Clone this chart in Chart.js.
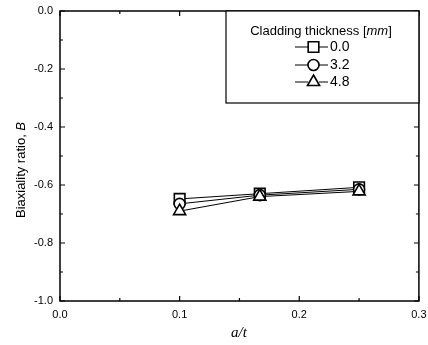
<!DOCTYPE html>
<html>
<head>
<meta charset="utf-8">
<script src="https://cdn.jsdelivr.net/npm/chart.js@4"></script>
<style>
  html, body { margin: 0; padding: 0; background: #fff; }
  #wrap { width: 428px; height: 345px; }
</style>
</head>
<body>
<div id="wrap"><canvas id="biaxChart" width="428" height="345"></canvas></div>
<script>
// ---------------- Data ----------------
const crackDepth = [0.1, 0.167, 0.25];          // a/t
const clad00 = [-0.648, -0.630, -0.608];        // cladding 0.0 mm
const clad32 = [-0.665, -0.635, -0.615];        // cladding 3.2 mm
const clad48 = [-0.690, -0.640, -0.622];        // cladding 4.8 mm
const seriesLabels = ['0.0', '3.2', '4.8'];
const seriesStyles = ['rect', 'circle', 'triangle'];
const xTicks = [0.0, 0.1, 0.2, 0.3];
const yTicks = [0.0, -0.2, -0.4, -0.6, -0.8, -1.0];

const FONT = '"Liberation Sans", Arial, sans-serif';
const radii = { rect: 7.5, circle: 5.5, triangle: 7 };

function toPoints(ys) {
    return crackDepth.map((x, i) => ({ x: x, y: ys[i] }));
}

const datasets = [clad00, clad32, clad48].map((ys, i) => ({
    label: seriesLabels[i],
    data: toPoints(ys),
    showLine: true,
    borderColor: '#000',
    borderWidth: 1,
    pointStyle: seriesStyles[i],
    pointRadius: radii[seriesStyles[i]],
    pointBorderWidth: 1.6,
    pointBackgroundColor: '#fff',
    pointBorderColor: '#000',
    order: 3 - i
}));

// frame, inward ticks, titles and legend box
const framePlugin = {
    id: 'frame',
    afterDatasetsDraw(chart) {
        const { ctx, chartArea: a, scales: { x, y } } = chart;
        ctx.save();
        ctx.strokeStyle = '#000';
        ctx.lineWidth = 1.5;
        ctx.strokeRect(a.left, a.top, a.right - a.left, a.bottom - a.top);

        ctx.lineWidth = 1.2;
        ctx.beginPath();
        for (let k = 0; k <= 6; k++) {
            const px = x.getPixelForValue(k * 0.05);
            const len = k % 2 === 0 ? 5 : 3;
            ctx.moveTo(px, a.bottom); ctx.lineTo(px, a.bottom - len);
            ctx.moveTo(px, a.top); ctx.lineTo(px, a.top + len);
        }
        for (let k = 0; k <= 10; k++) {
            const py = y.getPixelForValue(-k / 10);
            const len = k % 2 === 0 ? 5 : 3;
            ctx.moveTo(a.left, py); ctx.lineTo(a.left + len, py);
            ctx.moveTo(a.right, py); ctx.lineTo(a.right - len, py);
        }
        ctx.stroke();

        // y title
        ctx.fillStyle = '#000';
        ctx.save();
        ctx.translate(21, 170);
        ctx.rotate(-Math.PI / 2);
        ctx.textBaseline = 'middle';
        ctx.textAlign = 'left';
        const t1 = 'Biaxiality ratio, ';
        ctx.font = '13px ' + FONT;
        const w1 = ctx.measureText(t1).width;
        ctx.font = 'italic 13px ' + FONT;
        const w2 = ctx.measureText('B').width;
        const sx = -(w1 + w2) / 2;
        ctx.font = '13px ' + FONT;
        ctx.fillText(t1, sx, 0);
        ctx.font = 'italic 13px ' + FONT;
        ctx.fillText('B', sx + w1, 0);
        ctx.restore();

        // x title
        ctx.font = 'italic 15px "Liberation Serif", "Times New Roman", serif';
        ctx.textAlign = 'center';
        ctx.textBaseline = 'middle';
        ctx.fillText('a/t', 239, 333);

        // legend
        const lx = 226, ly = a.top, lw = a.right - 226, lh = 92;
        ctx.fillStyle = '#fff';
        ctx.fillRect(lx, ly, lw, lh);
        ctx.strokeStyle = '#000';
        ctx.lineWidth = 1.2;
        ctx.strokeRect(lx, ly, lw, lh);
        ctx.fillStyle = '#000';
        ctx.textAlign = 'left';
        ctx.font = '13px ' + FONT;
        const tA = 'Cladding thickness [';
        const wA = ctx.measureText(tA).width;
        ctx.font = 'italic 13px ' + FONT;
        const wB = ctx.measureText('mm').width;
        ctx.font = '13px ' + FONT;
        const wC = ctx.measureText(']').width;
        const tx = 321 - (wA + wB + wC) / 2;
        ctx.fillText(tA, tx, 31);
        ctx.font = 'italic 13px ' + FONT;
        ctx.fillText('mm', tx + wA, 31);
        ctx.font = '13px ' + FONT;
        ctx.fillText(']', tx + wA + wB, 31);

        const rows = [47, 65, 82];
        chart.data.datasets.forEach((ds, i) => {
            const yy = rows[i];
            ctx.strokeStyle = '#000';
            ctx.lineWidth = 1;
            ctx.beginPath();
            ctx.moveTo(295, yy); ctx.lineTo(308, yy);
            ctx.moveTo(319, yy); ctx.lineTo(328, yy);
            ctx.stroke();
            ctx.lineWidth = 1.6;
            ctx.fillStyle = '#fff';
            Chart.helpers.drawPoint(ctx, {
                pointStyle: ds.pointStyle, radius: ds.pointRadius, borderWidth: 1.6
            }, 313.5, yy);
            ctx.fillStyle = '#000';
            ctx.font = '14px ' + FONT;
            ctx.fillText(ds.label, 330, yy);
        });
        ctx.restore();
    }
};

const ctx = document.getElementById('biaxChart').getContext('2d');
new Chart(ctx, {
    type: 'scatter',
    data: { datasets: datasets },
    options: {
        responsive: false,
        animation: false,
        layout: { padding: { top: 11, right: 9, left: 0, bottom: 0 } },
        plugins: { legend: { display: false }, tooltip: { enabled: false } },
        scales: {
            x: {
                min: 0, max: 0.3,
                afterFit: s => { s.height = 44; s.paddingLeft = 0; s.paddingRight = 0; },
                afterBuildTicks: s => { s.ticks = xTicks.map(v => ({ value: v })); },
                grid: { display: false, drawTicks: false },
                border: { display: false },
                ticks: {
                    padding: 7, color: '#000',
                    font: { family: FONT, size: 11 },
                    callback: v => v.toFixed(1)
                }
            },
            y: {
                min: -1.0, max: 0.0,
                afterFit: s => { s.width = 60; s.paddingTop = 0; s.paddingBottom = 0; },
                afterBuildTicks: s => { s.ticks = yTicks.map(v => ({ value: v })); },
                grid: { display: false, drawTicks: false },
                border: { display: false },
                ticks: {
                    padding: 7, color: '#000',
                    font: { family: FONT, size: 11 },
                    callback: v => v.toFixed(1)
                }
            }
        }
    },
    plugins: [framePlugin]
});
</script>
</body>
</html>
